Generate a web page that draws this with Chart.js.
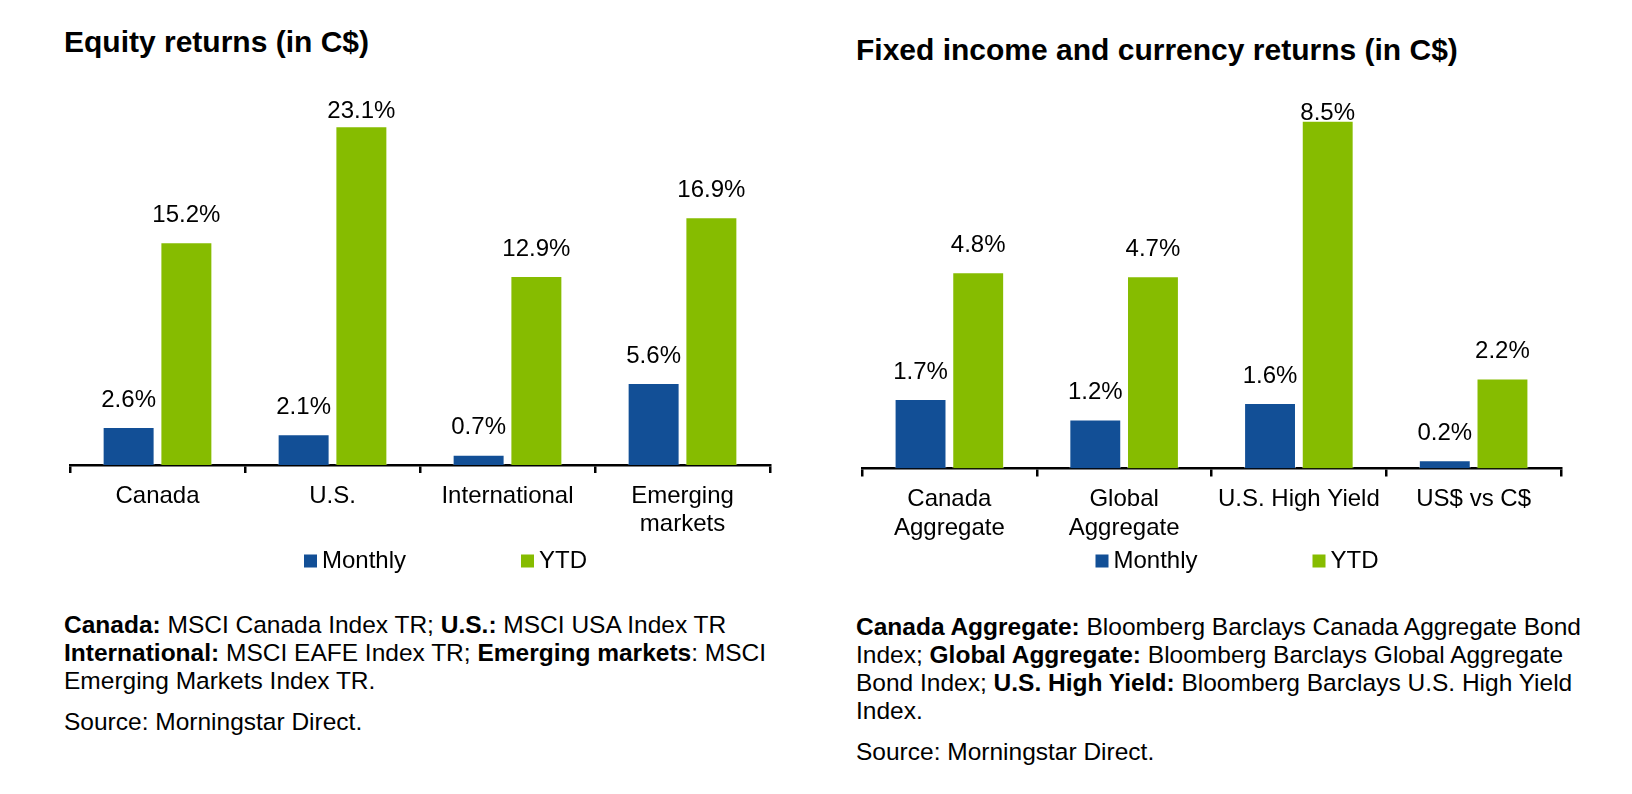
<!DOCTYPE html>
<html>
<head>
<meta charset="utf-8">
<script src="https://cdn.jsdelivr.net/npm/chart.js@4.4.1/dist/chart.umd.min.js"></script>
<style>
  html, body { margin: 0; padding: 0; background: #ffffff; }
  body { width: 1632px; height: 794px; position: relative; overflow: hidden;
         font-family: "Liberation Sans", Arial, sans-serif; color: #000; }
  .title { position: absolute; font-weight: bold; font-size: 30px; line-height: 36px; white-space: nowrap; }
  .box { position: absolute; }
  .note { position: absolute; font-size: 24.5px; line-height: 28px; white-space: nowrap; }
  .note p { margin: 0; }
  .note p.src { margin-top: 13px; }
</style>
</head>
<body>
<div class="title" style="left:64px; top:23.5px;">Equity returns (in C$)</div>
<div class="title" style="left:856px; top:32px;">Fixed income and currency returns (in C$)</div>

<div class="box" style="left:0; top:0; width:800px; height:600px;"><canvas id="equity" width="800" height="600"></canvas></div>
<div class="box" style="left:800px; top:0; width:832px; height:600px;"><canvas id="fixed" width="832" height="600"></canvas></div>

<div class="note" style="left:64px; top:611px;">
  <p><b>Canada:</b> MSCI Canada Index TR; <b>U.S.:</b> MSCI USA Index TR<br>
  <b>International:</b> MSCI EAFE Index TR; <b>Emerging markets</b>: MSCI<br>
  Emerging Markets Index TR.</p>
  <p class="src">Source: Morningstar Direct.</p>
</div>
<div class="note" style="left:856px; top:613px;">
  <p><b>Canada Aggregate:</b> Bloomberg Barclays Canada Aggregate Bond<br>
  Index; <b>Global Aggregate:</b> Bloomberg Barclays Global Aggregate<br>
  Bond Index; <b>U.S. High Yield:</b> Bloomberg Barclays U.S. High Yield<br>
  Index.</p>
  <p class="src">Source: Morningstar Direct.</p>
</div>

<script>
// ---- data ----
const seriesNames = ['Monthly', 'YTD'];
const equityCategories = [['Canada'], ['U.S.'], ['International'], ['Emerging', 'markets']];
const equityMonthly = [2.6, 2.1, 0.7, 5.6];
const equityYTD = [15.2, 23.1, 12.9, 16.9];
const fixedCategories = [['Canada', 'Aggregate'], ['Global', 'Aggregate'], ['U.S. High Yield'], ['US$ vs C$']];
const fixedMonthly = [1.7, 1.2, 1.6, 0.2];
const fixedYTD = [4.8, 4.7, 8.5, 2.2];

// ---- styles ----
const FONT = '"Liberation Sans", Arial, sans-serif';
const BLUE = '#124f96';
const GREEN = '#86bc00';
Chart.defaults.font.family = FONT;
Chart.defaults.color = '#000';

const valueLabels = {
  id: 'valueLabels',
  afterDatasetsDraw(chart) {
    const ctx = chart.ctx;
    const top = chart.chartArea.top;
    ctx.save();
    ctx.font = '24px ' + FONT;
    ctx.fillStyle = '#000';
    ctx.textAlign = 'center';
    ctx.textBaseline = 'middle';
    chart.data.datasets.forEach((ds, i) => {
      chart.getDatasetMeta(i).data.forEach((bar, j) => {
        const y = Math.max(bar.y - 27, top + 13);
        ctx.fillText(ds.data[j].toFixed(1) + '%', bar.x, y);
      });
    });
    ctx.restore();
  }
};

const customLegend = {
  id: 'customLegend',
  afterDraw(chart, args, opts) {
    const ctx = chart.ctx;
    const ca = chart.chartArea;
    const cx = (ca.left + ca.right) / 2;
    const y = opts.y;
    ctx.save();
    ctx.font = '24px ' + FONT;
    ctx.textAlign = 'left';
    ctx.textBaseline = 'middle';
    chart.data.datasets.forEach((ds, i) => {
      const x = cx + opts.offsets[i];
      ctx.fillStyle = ds.backgroundColor;
      ctx.fillRect(x, y - 6.5, 13, 13);
      ctx.fillStyle = '#000';
      ctx.fillText(ds.label, x + 18, y);
    });
    ctx.restore();
  }
};

function makeChart(id, categories, monthly, ytd, yMax, padding) {
  return new Chart(document.getElementById(id), {
    type: 'bar',
    data: {
      labels: categories,
      datasets: [
        { label: seriesNames[0], data: monthly, backgroundColor: BLUE,
          borderColor: 'rgba(255,255,255,0.45)', borderWidth: 1,
          categoryPercentage: 0.66, barPercentage: 0.9 },
        { label: seriesNames[1], data: ytd, backgroundColor: GREEN,
          borderColor: 'rgba(255,255,255,0.45)', borderWidth: 1,
          categoryPercentage: 0.66, barPercentage: 0.9 }
      ]
    },
    options: {
      responsive: false,
      animation: false,
      devicePixelRatio: 1,
      layout: { padding: padding },
      plugins: {
        legend: { display: false },
        tooltip: { enabled: false },
        customLegend: { y: 561, offsets: [-116, 101] }
      },
      scales: {
        x: {
          grid: { display: true, drawOnChartArea: false, drawTicks: true, tickLength: 8,
                  color: '#000', lineWidth: 2.5, offset: true },
          border: { display: true, color: '#000', width: 2.5 },
          ticks: { color: '#000', font: { family: FONT, size: 24, lineHeight: 1.18 },
                   padding: 9, maxRotation: 0, autoSkip: false },
          afterFit(scale) { scale.height = 85; }
        },
        y: { display: false, min: 0, max: yMax }
      }
    },
    plugins: [valueLabels, customLegend]
  });
}

makeChart('equity', equityCategories, equityMonthly, equityYTD, 25,
          { left: 70, right: 30, top: 98.5, bottom: 50 });
makeChart('fixed', fixedCategories, fixedMonthly, fixedYTD, 9,
          { left: 62, right: 71, top: 100.4, bottom: 46.5 });
</script>
</body>
</html>
